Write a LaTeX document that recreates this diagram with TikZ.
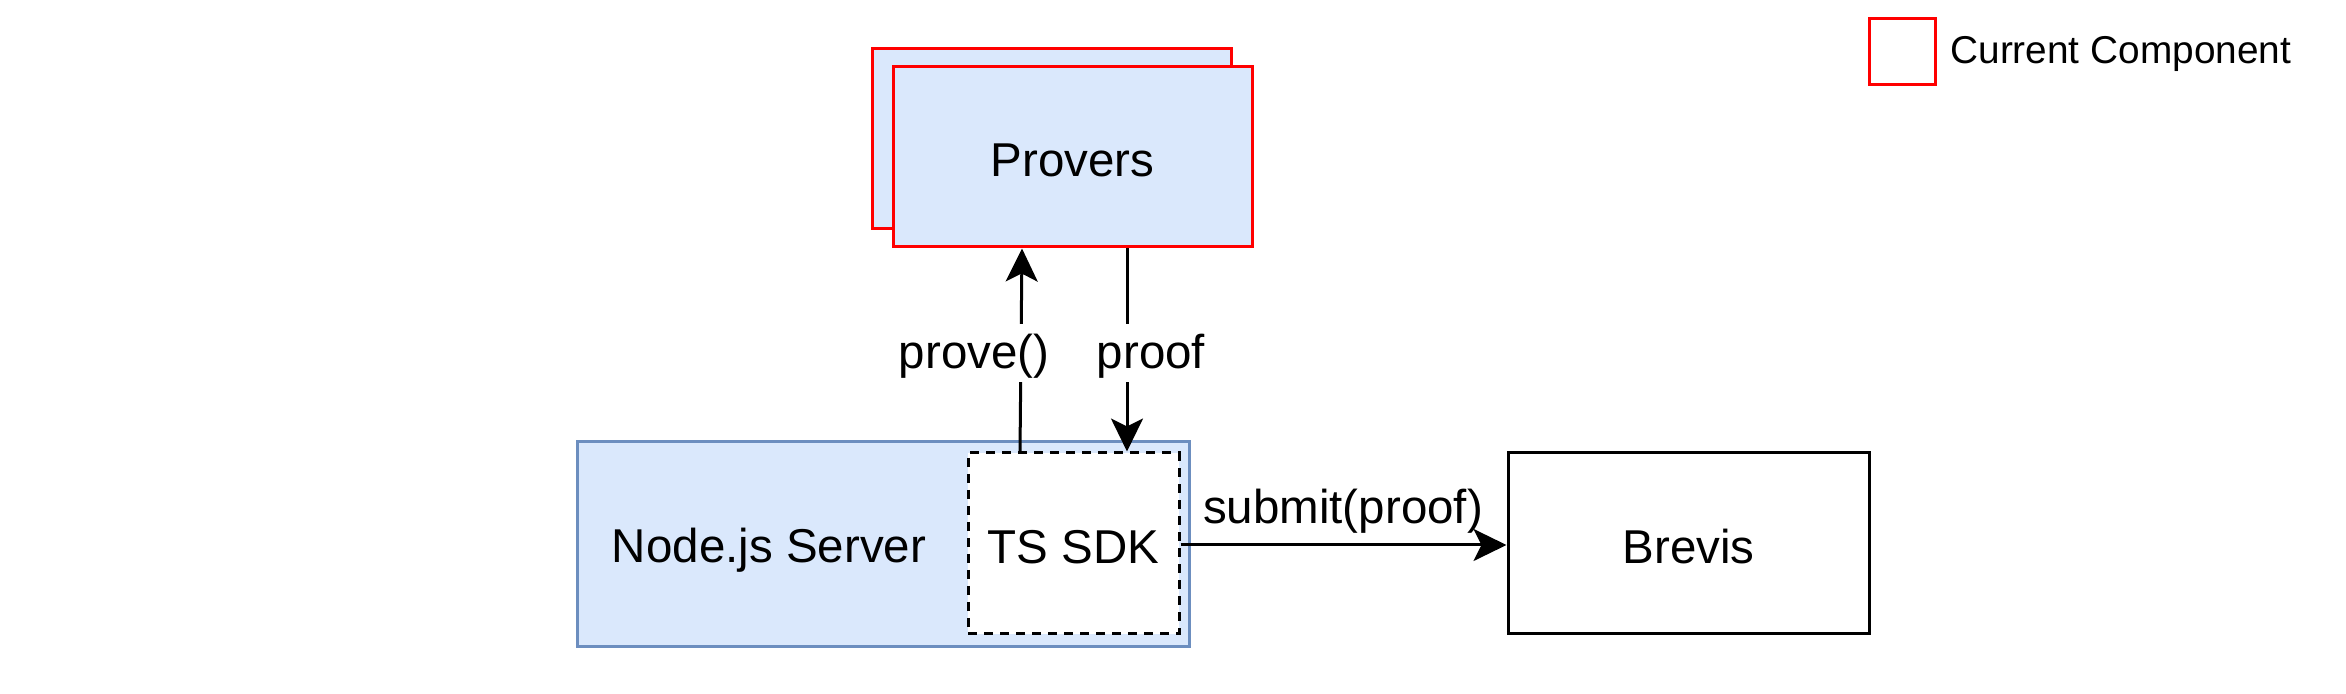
\documentclass[tikz,border=0pt]{standalone}
\usepackage{fontspec}
\setmainfont{Liberation Sans}
\usetikzlibrary{arrows.meta,calc}
\definecolor{bluefill}{HTML}{DAE8FC}
\definecolor{bluestroke}{HTML}{6C8EBF}
\definecolor{redstroke}{HTML}{FF0000}
\newcommand\dgmain{\fontsize{23.75pt}{28pt}\selectfont}
\newcommand\dglegend{\fontsize{19.4pt}{23pt}\selectfont}
\begin{document}
\begin{tikzpicture}[x=0.5pt,y=-0.5pt,
  box/.style={draw, line width=1.5pt, inner sep=0pt, font=\dgmain, text height=19.75pt, text depth=0pt},
  provbox/.style={box, draw=redstroke, fill=bluefill, minimum width=179.5pt, minimum height=90pt},
  arr/.style={line width=1.5pt, -{Stealth[length=16.5pt,width=16pt,inset=4pt]}},
  lbl/.style={font=\dgmain, inner sep=0pt},
  edgelbl/.style={lbl, fill=white, inner xsep=1pt, text height=22.5pt, text depth=6.5pt, anchor=base}]
\useasboundingbox (0,0) rectangle (2346,694);
% Provers (stacked)
\node[provbox] (provback) at (1051.5,139) {};
\node[provbox] (prov) at (1072.5,157) {Provers};
% Node.js server
\node[box, draw=bluestroke, fill=bluefill, minimum width=306pt, minimum height=102.5pt] (node) at (883.5,544) {};
\node[lbl, anchor=base] (nodetxt) at (769,563) {Node.js Server};
% TS SDK
\node[box, fill=white, dash pattern=on 4.5pt off 3.5pt, minimum width=105.5pt, minimum height=90.5pt] (sdk) at (1073.5,543.5) {TS SDK};
% Brevis
\node[box, fill=white, minimum width=180.5pt, minimum height=90.5pt] (brevis) at (1688.5,543.5) {Brevis};
% Legend
\node[box, draw=redstroke, fill=white, minimum width=33pt, minimum height=33pt] (legbox) at (1902,52) {};
\node[lbl, font=\dglegend, anchor=base west] (legtxt) at (1950,64) {Current Component};
% Connectors
\draw[arr] ($(sdk.north)+(-53.5,0)$) -- ($(prov.south)+(-50.5,0)$);
\draw[arr] ($(prov.south)+(54.5,0)$) -- ($(sdk.north)+(53.5,0)$);
\draw[arr] (sdk.east |- 0,545) -- (brevis.west |- 0,545);
% Labels
\node[edgelbl] (lprove) at (974,369) {prove()};
\node[edgelbl] (lproof) at (1151,369) {proof};
\node[lbl, anchor=base] (lsubmit) at (1343,524) {submit(proof)};
\end{tikzpicture}
\end{document}
